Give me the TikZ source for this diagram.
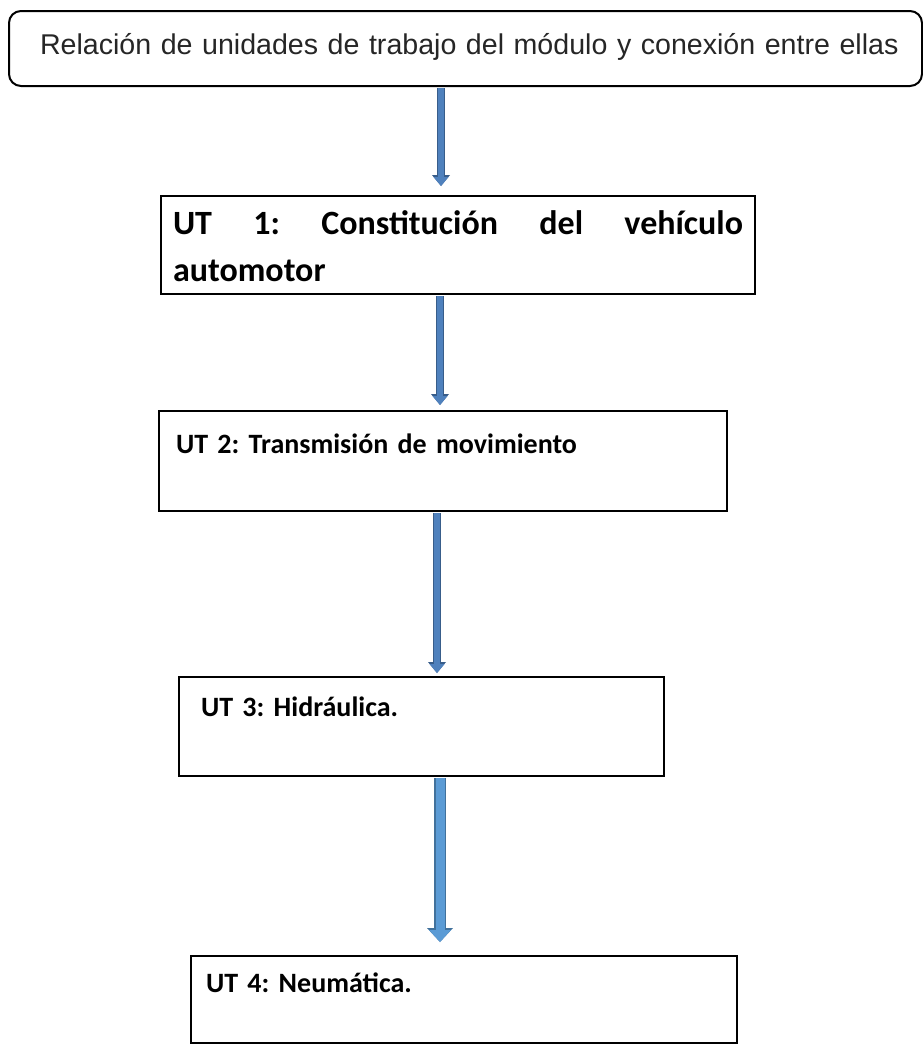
\documentclass[tikz,border=0pt]{standalone}
\usepackage{fontspec}
\usepackage{tikz}
\usetikzlibrary{positioning, arrows.meta, calc}
\newfontfamily\titlefont{Liberation Sans}
\newfontfamily\unitfont{Carlito}
\definecolor{flowblue}{HTML}{4F81BD}
\definecolor{flowedge}{HTML}{385D8A}
\definecolor{flowlight}{HTML}{5B9BD5}
\definecolor{flowlightedge}{HTML}{41719C}
\frenchspacing

\begin{document}
\begin{tikzpicture}[x=1pt, y=-1pt,
                titlebox/.style={draw=black, line width=2pt, rounded corners=12pt, anchor=north west, inner xsep=31pt, inner ysep=0pt, align=left, text=black!85, font=\titlefont\fontsize{28.6}{35}\selectfont},
                unitbox/.style={draw=black, line width=2pt, anchor=north west, inner ysep=0pt, align=left, font=\unitfont\bfseries\fontsize{28}{40}\selectfont},
                flow/.style={draw=flowblue, line width=6pt, -{Triangle[width=15pt, length=9pt, line width=0pt]}, preaction={draw=flowedge, line width=8pt, -{Triangle[width=18pt, length=11pt, line width=0pt]}}},
                bigflow/.style={draw=flowlight, line width=9pt, -{Triangle[width=22pt, length=12pt, line width=0pt]}, preaction={draw=flowlightedge, line width=12pt, -{Triangle[width=26pt, length=14pt, line width=0pt]}}}
            ]
            \useasboundingbox (0,0) rectangle (922,1044);

            % Kaesten
            \node[titlebox, text width=851pt, text height=43pt, text depth=32pt] (head) at (8,10) {\mbox{Relación de unidades de trabajo del módulo y conexión entre ellas}};
            \node[unitbox, align=justify, inner xsep=12pt, text width=570pt, text height=38pt, text depth=60pt, font=\unitfont\bfseries\fontsize{34}{47}\selectfont] (ut1) at (160,195) {\noindent UT 1: Constitución del vehículo\linebreak automotor};
            \node[unitbox, inner xsep=17pt, text width=534pt, text height=42pt, text depth=58pt] (ut2) at (158,410) {UT 2: Transmisión de movimiento};
            \node[unitbox, inner xsep=22pt, text width=441pt, text height=39pt, text depth=60pt] (ut3) at (178,676) {UT 3: Hidráulica.};
            \node[unitbox, inner xsep=15pt, text width=516pt, text height=36pt, text depth=51pt] (ut4) at (190,955) {UT 4: Neumática.};

            % Pfeile
            \coordinate (p1) at (441,0);
            \coordinate (p2) at (440,0);
            \coordinate (p3) at (437,0);
            \coordinate (p4) at (440,0);
            \draw[flow, shorten <=1pt, shorten >=9pt] (head.south -| p1) -- (ut1.north -| p1);
            \draw[flow, shorten <=1pt, shorten >=5pt] (ut1.south -| p2) -- (ut2.north -| p2);
            \draw[flow, shorten <=1pt, shorten >=3pt] (ut2.south -| p3) -- (ut3.north -| p3);
            \draw[bigflow, shorten <=1pt, shorten >=13pt] (ut3.south -| p4) -- (ut4.north -| p4);

        \end{tikzpicture}
\end{document}
